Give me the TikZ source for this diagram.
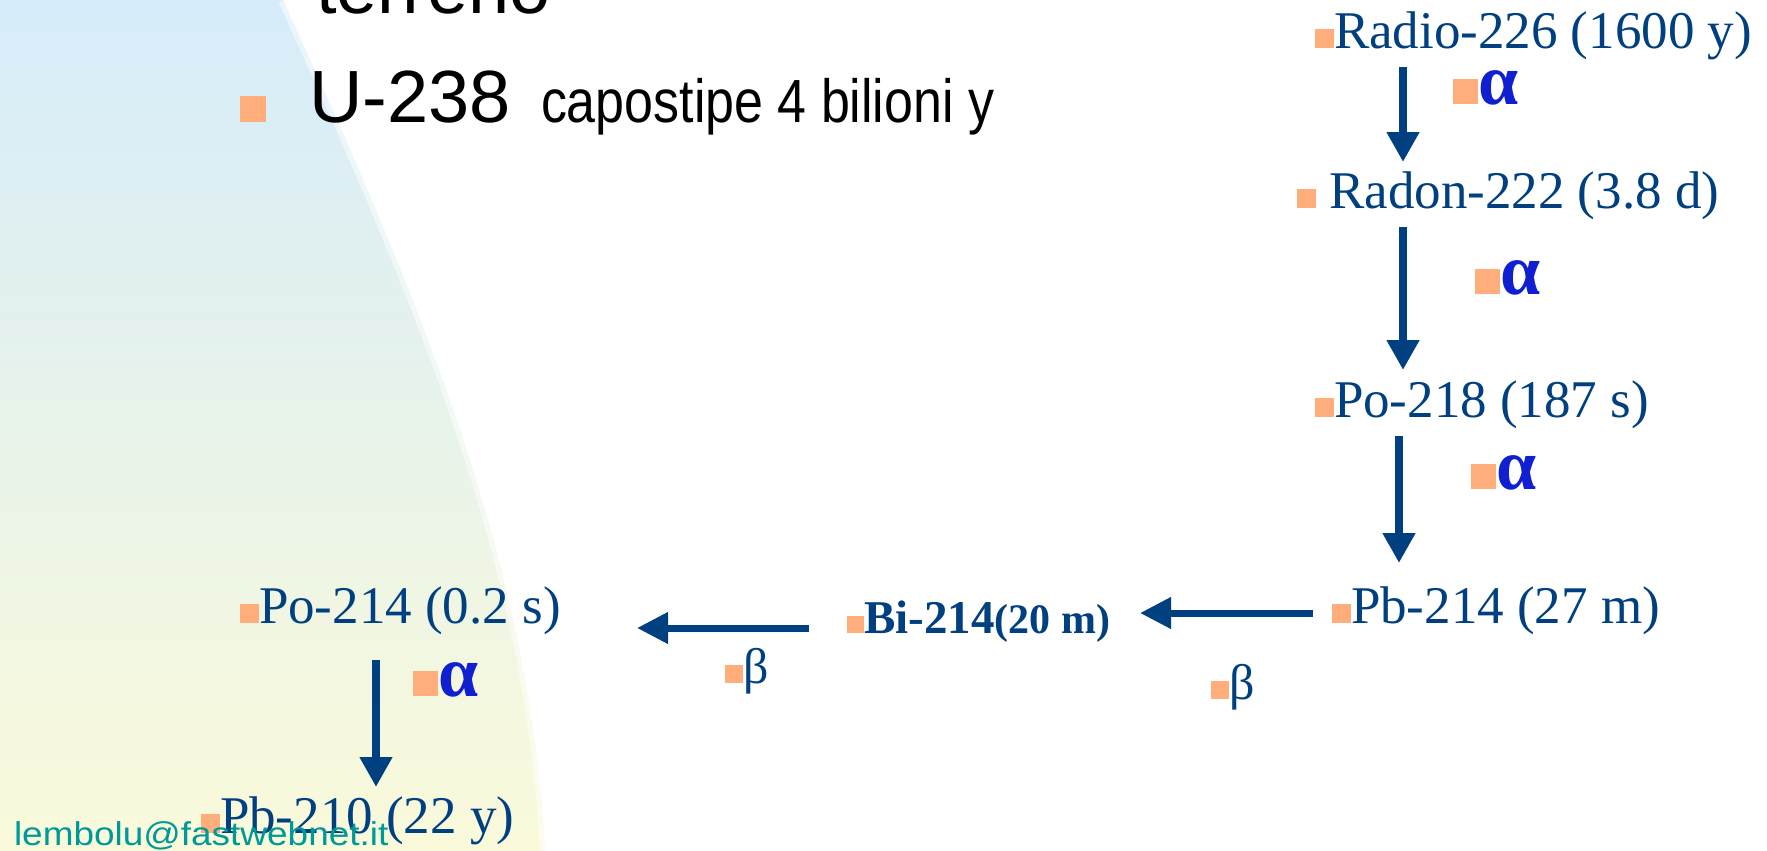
\documentclass[tikz,border=0pt]{standalone}
\usepackage{fontspec}
\setmainfont{Liberation Serif}
\newfontfamily\arialf{Liberation Sans}
\usetikzlibrary{arrows.meta}
\definecolor{chain}{RGB}{0,64,128}
\definecolor{bul}{RGB}{255,173,122}
\definecolor{alph}{RGB}{16,32,208}
\definecolor{mail}{RGB}{0,153,153}
\definecolor{bgtop}{RGB}{214,236,250}
\definecolor{bgmid}{RGB}{231,243,236}
\definecolor{bgbot}{RGB}{250,250,218}
\newcommand\sq[1]{{\color{bul}\rule{#1}{#1}}}
\begin{document}
\begin{tikzpicture}[x=0.5pt,y=-0.5pt,
  lbl/.style={anchor=base west,inner sep=0pt,outer sep=0pt},
  iso/.style={lbl,text=chain,font=\fontsize{26.5}{30}\selectfont},
  alp/.style={lbl,text=alph,font=\fontsize{36}{38}\selectfont\bfseries},
  bet/.style={lbl,text=chain,font=\fontsize{25}{28}\selectfont},
  sans/.style={lbl,text=black,font=\arialf\fontsize{37}{40}\selectfont},
  varrow/.style={draw=chain,line width=4pt,-{Triangle[width=15.5pt,length=15pt]}},
  harrow/.style={draw=chain,line width=3.5pt,-{Triangle[width=15pt,length=15.5pt]}}
]
\useasboundingbox (0,0) rectangle (1767,851);
\fill[white] (0,0) rectangle (1767,851);
\shade[top color=bgtop, middle color=bgmid, bottom color=bgbot]
  (0,0) -- (283,0) .. controls (420,300) and (530,560) .. (545,851)
  -- (0,851) -- cycle;
\draw[white, line width=5pt, opacity=0.5]
  (283,0) .. controls (420,300) and (530,560) .. (545,851);

% upper left text
\node[sans] (terr) at (316,13) {terreno};
\node[lbl] (ubul) at (240,122) {\sq{13pt}};
\node[sans] (u238) at (309,122) {U-238};
\node[lbl,text=black,font=\arialf\fontsize{26.5}{30}\selectfont] (capo) at (541,122) {\scalebox{0.98}[1.15]{capostipe 4 bilioni y}};

% decay chain
\node[iso] (radio) at (1315,48) {\sq{9.5pt}Radio-226 (1600 y)};
\node[iso] (radon) at (1297,208) {\sq{9.5pt} Radon-222 (3.8 d)};
\node[iso] (po218) at (1315,417) {\sq{9.5pt}Po-218 (187 s)};
\node[iso] (pb214) at (1332,623) {\sq{9.5pt}Pb-214 (27 m)};
\node[lbl,text=chain,font=\bfseries] (bi214) at (847,633) {\sq{8.5pt}{\fontsize{23.5}{26}\selectfont Bi-214}{\fontsize{21}{24}\selectfont(20 m)}};
\node[iso] (po214) at (240,623) {\sq{9.5pt}Po-214 (0.2 s)};
\node[iso] (pb210) at (201,833) {\sq{9.5pt}Pb-210 (22 y)};

% decay labels
\node[alp] (al1) at (1453,104) {\sq{12.5pt}α};
\node[alp] (al2) at (1475,294) {\sq{12.5pt}α};
\node[alp] (al3) at (1471,489) {\sq{12.5pt}α};
\node[alp] (al4) at (413,696) {\sq{12.5pt}α};
\node[bet] (be1) at (1211,699) {\sq{9pt}β};
\node[bet] (be2) at (725,683) {\sq{9pt}β};

% arrows
\coordinate (a1s) at (1403,67);  \coordinate (a1e) at (1403,162);
\coordinate (a2s) at (1403,227); \coordinate (a2e) at (1403,370);
\coordinate (a3s) at (1399,436); \coordinate (a3e) at (1399,563);
\coordinate (a4s) at (1313,613); \coordinate (a4e) at (1140,613);
\coordinate (a5s) at (809,628);  \coordinate (a5e) at (637,628);
\coordinate (a6s) at (376,660);  \coordinate (a6e) at (376,787);
\draw[varrow] (a1s) -- (a1e);
\draw[varrow] (a2s) -- (a2e);
\draw[varrow] (a3s) -- (a3e);
\draw[harrow] (a4s) -- (a4e);
\draw[harrow] (a5s) -- (a5e);
\draw[varrow] (a6s) -- (a6e);

% footer
\node[lbl,text=mail,font=\arialf\fontsize{16.5}{18}\selectfont] (mail) at (14,845) {\scalebox{1.12}[1]{lembolu@fastwebnet.it}};
\end{tikzpicture}
\end{document}
